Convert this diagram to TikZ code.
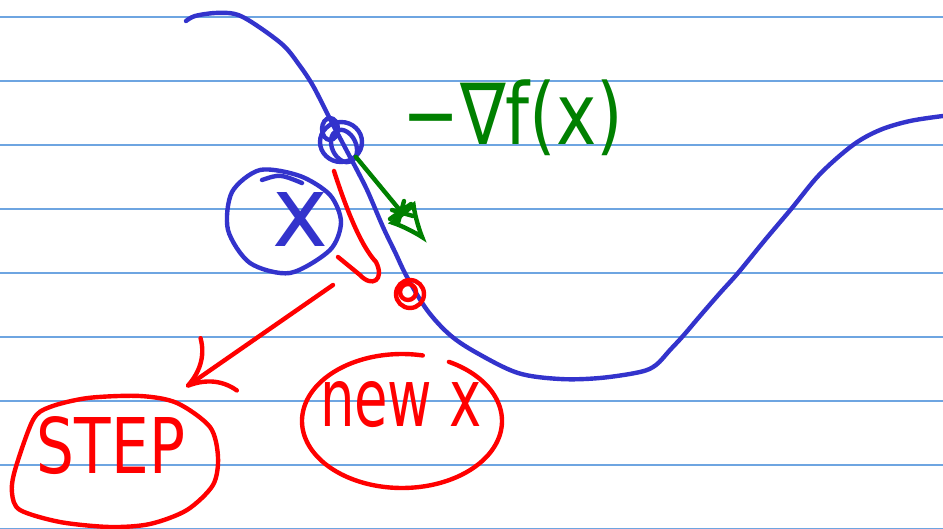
\documentclass[tikz,border=0pt]{standalone}
\usepackage{fontspec}
\setmainfont{DejaVu Sans}
\usepackage{graphicx}
\usetikzlibrary{arrows.meta,shapes.geometric}
\definecolor{penblue}{RGB}{51,51,204}
\definecolor{penred}{RGB}{255,0,0}
\definecolor{pengreen}{RGB}{0,128,0}
\definecolor{ruleblue}{RGB}{110,165,225}
\begin{document}
\begin{tikzpicture}[x=1pt,y=-1pt,line cap=round,line join=round,
  bluepen/.style={draw=penblue,line width=4.4pt},
  redpen/.style={draw=penred,line width=4.4pt},
  greenpen/.style={draw=pengreen,line width=4.4pt},
  ruleline/.style={draw=ruleblue,line width=1.3pt},
  txt/.style={inner sep=0pt,outer sep=0pt}]
\useasboundingbox (0,0) rectangle (943,529);
\fill[white] (0,0) rectangle (943,529);
% ruled paper
\foreach \k in {0,...,8} \draw[ruleline] (0,{17+64*\k}) -- (943,{17+64*\k});

% the function curve
\draw[bluepen] plot[smooth,tension=0.55] coordinates {
 (186,21) (195,16) (215,13) (235,14) (253,23) (283,45) (300,66) (312,84)
 (322,103) (331,121) (340,138) (349,155) (358,172) (368,192) (383,227)
 (395,252) (407,277) (427,310) (450,335) (477,353) (518,373) (560,379)
 (600,378) (640,372) (656,365) (670,350) (683,336) (700,316) (720,293)
 (738,273) (765,240) (792,208) (820,174) (853,145) (880,130) (910,121) (943,116)};

% old point (circled on the curve)
\node[circle,minimum size=42pt,txt] (oldpt) at (341,142) {};
\draw[bluepen] (oldpt.center) ellipse [x radius=21pt,y radius=20pt];
\draw[bluepen,rotate around={25:(344,146)}] (344,146) ellipse [x radius=12pt,y radius=17pt];
\draw[bluepen] (330,129) ellipse [x radius=8pt,y radius=11pt];

% circled x
\node[txt,text=penblue] (xlab) at (300,220) {\resizebox{56pt}{54pt}{x}};
\draw[bluepen] plot[smooth cycle] coordinates {(260,170) (300,176) (330,195) (341,222) (330,250) (290,273) (250,263) (228,230) (232,192)};
\draw[bluepen] (262,180) .. controls (280,174) .. (302,183);

% gradient arrow
\coordinate (gstart) at (oldpt.-45);
\coordinate (gtip) at (427,243);
\draw[greenpen,-{Latex[open,length=40pt,width=36pt]}] (gstart) -- (gtip);
\draw[greenpen] (392,210) -- (413,216) (404,201) -- (398,223) (390,219) -- (411,204);
\node[txt,text=pengreen] (grad) at (513,118) {\resizebox*{220pt}{76pt}{−∇f(x)}};

% red hook from old point toward new point
\coordinate (hs) at (334,171);
\draw[redpen] (hs) .. controls (345,205) and (360,245) .. (376,262)
  .. controls (385,280) and (372,288) .. (360,275) -- (338,257);

% new point
\node[circle,draw=penred,line width=4.4pt,minimum size=28pt,txt] (newpt) at (410,294) {};
\draw[redpen] (408,292) circle [radius=8pt];

% arrow to STEP
\coordinate (as) at (333,285);
\coordinate (stepin) at (186,387);
\draw[redpen,-{Computer Modern Rightarrow[length=42pt,width=68pt]}] (as) -- (stepin);

% STEP
\node[txt,text=penred] (stepnode) at (111,446) {\resizebox{148pt}{57pt}{STEP}};
\draw[redpen] plot[smooth cycle] coordinates {(50,407) (88,398) (140,396) (177,403) (210,427) (218,457) (213,485) (187,510) (150,524) (110,527) (60,522) (20,510) (12,493) (15,470) (33,420)};

% new x
\node[txt,text=penred] (newx) at (401,405) {\resizebox{162pt}{45pt}{new x}};
\draw[redpen] plot[smooth,domain=298:642,samples=90,variable=\t] ({402+100*cos(\t)},{421+67*sin(\t)});
\end{tikzpicture}
\end{document}
